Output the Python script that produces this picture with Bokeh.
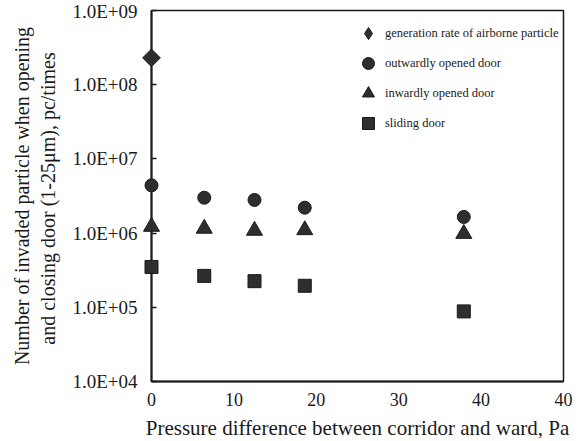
import math
from bokeh.plotting import figure
from bokeh.models import FixedTicker, Legend, LegendItem
from bokeh.embed import file_html
from bokeh.resources import INLINE

# ---- data ----
gen_pressure = [0]
gen_rate = [2.3e8]

pressure = [0, 6.4, 12.5, 18.6, 37.9]
outward = [4.4e6, 3.0e6, 2.8e6, 2.2e6, 1.65e6]
inward = [1.22e6, 1.15e6, 1.08e6, 1.1e6, 0.98e6]
sliding = [3.5e5, 2.65e5, 2.25e5, 1.95e5, 8.8e4]

x_ticks = [0, 10, 20, 30, 40, 50]
x_tick_labels = ["0", "10", "20", "30", "40", "40"]
y_ticks = [1e4, 1e5, 1e6, 1e7, 1e8, 1e9]
y_tick_labels = ["1.0E+04", "1.0E+05", "1.0E+06", "1.0E+07", "1.0E+08", "1.0E+09"]

series_labels = ["generation rate of airborne particle", "outwardly opened door",
                 "inwardly opened door", "sliding door"]

FONT = "Liberation Serif"
INK = "#1a1a1a"
FILL = "#2e2e2e"

p = figure(frame_width=412, frame_height=371,
           min_border_left=151, min_border_right=15, min_border_top=10, min_border_bottom=58,
           x_range=(0, 50), y_range=(1e4, 1e9), y_axis_type="log",
           output_backend="svg", toolbar_location=None)

p.grid.visible = False
p.outline_line_color = INK
p.outline_line_width = 1.5
p.background_fill_color = "white"
p.border_fill_color = "white"

# x axis
p.xaxis.ticker = FixedTicker(ticks=x_ticks)
p.xaxis.major_label_overrides = {t: l for t, l in zip(x_ticks, x_tick_labels)}
p.xaxis.major_tick_line_color = None
p.xaxis.minor_tick_line_color = None
p.xaxis.axis_line_color = INK
p.xaxis.axis_line_width = 1.8
p.xaxis.major_label_standoff = 5
p.xaxis.major_label_text_font = FONT
p.xaxis.major_label_text_font_size = "18px"
p.xaxis.major_label_text_color = INK
p.xaxis.axis_label = "Pressure difference between corridor and ward, Pa"
p.xaxis.axis_label_text_font = FONT
p.xaxis.axis_label_text_font_size = "21px"
p.xaxis.axis_label_text_font_style = "normal"
p.xaxis.axis_label_text_color = INK
p.xaxis.axis_label_standoff = 7

# y axis
p.yaxis.ticker = FixedTicker(ticks=y_ticks)
p.yaxis.major_label_overrides = {t: l for t, l in zip(y_ticks, y_tick_labels)}
p.yaxis.major_tick_in = 5
p.yaxis.major_tick_out = 0
p.yaxis.major_tick_line_color = INK
p.yaxis.major_tick_line_width = 1.5
p.yaxis.minor_tick_line_color = None
p.yaxis.axis_line_color = INK
p.yaxis.axis_line_width = 2
p.yaxis.major_label_standoff = 14
p.yaxis.major_label_text_font = FONT
p.yaxis.major_label_text_font_size = "19px"
p.yaxis.major_label_text_color = INK
p.yaxis.axis_label = "Number of invaded particle when opening\nand closing door  (1-25\u03bcm), pc/times"
p.yaxis.axis_label_text_font = FONT
p.yaxis.axis_label_text_font_size = "20px"
p.yaxis.axis_label_text_font_style = "normal"
p.yaxis.axis_label_text_color = INK
p.yaxis.axis_label_standoff = 10

common = dict(fill_color=FILL, line_color=INK, line_width=1, level="overlay")
# diamond key for the legend (hidden under the plotted diamond)
r_gen_key = p.scatter(gen_pressure, gen_rate, marker="diamond", size=12, **common)
r_gen = p.scatter(gen_pressure, gen_rate, marker="square", angle=math.pi / 4, size=12.5, **common)
r_out = p.scatter(pressure, outward, marker="circle", size=13, **common)
r_in = p.scatter(pressure, inward, marker="triangle", size=16, **common)
r_sl = p.scatter(pressure, sliding, marker="square", size=13, **common)

items = [LegendItem(label=lab, renderers=[r]) for lab, r in
         zip(series_labels, [r_gen_key, r_out, r_in, r_sl])]
legend = Legend(items=items, location=(202, 243),
                glyph_width=30, glyph_height=30, label_height=30, spacing=0,
                padding=0, margin=0, label_standoff=2,
                background_fill_alpha=0, border_line_color=None,
                label_text_font=FONT, label_text_font_size="12.5px",
                label_text_color=INK)
p.add_layout(legend)

open("out.html", "w").write(file_html(p, INLINE))
